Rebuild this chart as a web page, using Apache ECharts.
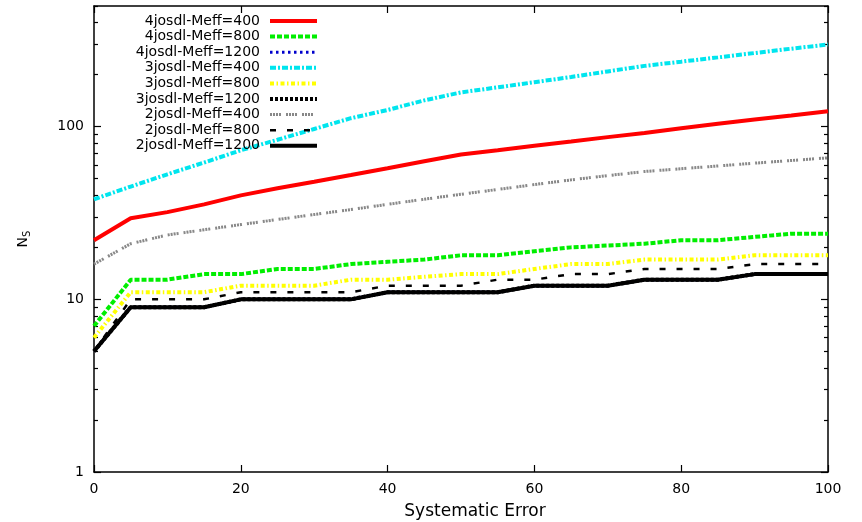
<!DOCTYPE html>
<html>
<head>
<meta charset="utf-8">
<script src="https://cdn.jsdelivr.net/npm/echarts@6/dist/echarts.min.js"></script>
<style>
html,body{margin:0;padding:0;background:#fff;}
#chart{width:862px;height:522px;}
</style>
</head>
<body>
<div id="chart"></div>
<script>
// ---- data ----
const xs = [0,5,10,15,20,25,30,35,40,45,50,55,60,65,70,75,80,85,90,95,100];
const seriesNames = ['4josdl-Meff=400','4josdl-Meff=800','4josdl-Meff=1200','3josdl-Meff=400','3josdl-Meff=800','3josdl-Meff=1200','2josdl-Meff=400','2josdl-Meff=800','2josdl-Meff=1200'];
const j4_400  = [22,29.5,32,35.5,40,44,48,52.5,57.5,63,69,73,77.5,82,87,92,98,104,110,116,123];
const j4_800  = [7,13,13,14,14,15,15,16,16.5,17,18,18,19,20,20.5,21,22,22,23,24,24];
const j4_1200 = [5,9,9,9,10,10,10,10,11,11,11,11,12,12,12,13,13,13,14,14,14];
const j3_400  = [38,45,53,62,73,84,97,112,125,142,158,169,181,194,209,225,238,252,267,283,299];
const j3_800  = [6,11,11,11,12,12,12,13,13,13.5,14,14,15,16,16,17,17,17,18,18,18];
const j3_1200 = [5,9,9,9,10,10,10,10,11,11,11,11,12,12,12,13,13,13,14,14,14];
const j2_400  = [16,21,23.6,25.3,27.1,29,31,33.1,35.5,38,40.6,43.3,46.2,49.2,52.1,55,57.1,59.2,61.5,63.7,66];
const j2_800  = [5,10,10,10,11,11,11,11,12,12,12,13,13,14,14,15,15,15,16,16,16];
const j2_1200 = [5,9,9,9,10,10,10,10,11,11,11,11,12,12,12,13,13,13,14,14,14];
const xTicks = [0,20,40,60,80,100];
const yMajorTicks = [1,10,100];
const yMinorTicks = [2,3,4,5,6,7,8,9,20,30,40,50,60,70,80,90,200,300,400,500];

// ---- styles ----
const FONT = 'DejaVu Sans';
const styles = [
  {color:'#ff0000', width:4, type:'solid'},
  {color:'#00ee00', width:4, type:[5,2]},
  {color:'#0000cc', width:3, type:[2.5,3.5]},
  {color:'#00e5ee', width:4, type:[6,2,2,2]},
  {color:'#ffff00', width:4, type:[4,2.5,1.5,2.5]},
  {color:'#000000', width:4, type:[3,2]},
  {color:'#888888', width:3, type:[2,1,2,1,2,1,2,5]},
  {color:'#000000', width:2.5, type:[6,11]},
  {color:'#000000', width:4, type:'solid'}
];
const values = [j4_400,j4_800,j4_1200,j3_400,j3_800,j3_1200,j2_400,j2_800,j2_1200];

const axisLineStyle = {color:'#000', width:1.5};
function yAxisDef(pos, major, showLabels) {
  const a = {
    type:'log', logBase:10, min:1, max:500, position:pos,
    axisLine:{show: major, lineStyle: axisLineStyle},
    axisTick:{show:true, inside:true, length: major ? 7 : 4,
              customValues: major ? yMajorTicks : yMinorTicks,
              lineStyle:{color:'#000', width:1.2}},
    axisLabel:{show: showLabels, customValues: yMajorTicks, color:'#000',
               fontFamily:FONT, fontSize:14, margin:10},
    splitLine:{show:false}, minorTick:{show:false}
  };
  if (showLabels) {
    a.name = '{n|N}{s|S}';
    a.nameLocation = 'middle';
    a.nameGap = 62;
    a.nameRotate = 90;
    a.nameTextStyle = {
      rich:{
        n:{fontFamily:FONT, fontSize:14, color:'#000', lineHeight:18},
        s:{fontFamily:FONT, fontSize:10, color:'#000', verticalAlign:'bottom'}
      }
    };
  }
  return a;
}

const option = {
  animation:false,
  backgroundColor:'#fff',
  grid:{left:94, right:34, top:6, bottom:50, containLabel:false, outerBoundsMode:'none'},
  legend:{
    orient:'vertical', align:'right', right:543, top:14, padding:0,
    itemWidth:47, itemHeight:14, itemGap:1.6, selectedMode:false,
    itemStyle:{opacity:0},
    lineStyle:{width:'inherit'},
    textStyle:{fontFamily:FONT, fontSize:14, color:'#000', padding:[0,5,0,0]},
    data: seriesNames
  },
  xAxis:[
    {type:'value', min:0, max:100, interval:20, position:'bottom',
     axisLine:{show:true, lineStyle:axisLineStyle},
     axisTick:{show:true, inside:true, length:7, lineStyle:{color:'#000', width:1.2}},
     axisLabel:{color:'#000', fontFamily:FONT, fontSize:14, margin:10,
                customValues: xTicks},
     splitLine:{show:false},
     name:'Systematic Error', nameLocation:'middle', nameGap:31,
     nameTextStyle:{fontFamily:FONT, fontSize:17, color:'#000', padding:[0,0,0,28]}},
    {type:'value', min:0, max:100, interval:20, position:'top',
     axisLine:{show:true, lineStyle:axisLineStyle},
     axisTick:{show:true, inside:true, length:7, lineStyle:{color:'#000', width:1.2}},
     axisLabel:{show:false}, splitLine:{show:false}}
  ],
  yAxis:[
    yAxisDef('left', true, true),
    yAxisDef('left', false, false),
    yAxisDef('right', true, false),
    yAxisDef('right', false, false)
  ],
  series: seriesNames.map((name, i) => ({
    name: name,
    type:'line',
    xAxisIndex:0, yAxisIndex:0,
    symbol:'none', showSymbol:false,
    lineStyle: styles[i],
    itemStyle:{color: styles[i].color},
    emphasis:{disabled:true},
    data: xs.map((x, k) => [x, values[i][k]])
  }))
};

const chart = echarts.init(document.getElementById('chart'), null, {renderer:'canvas'});
chart.setOption(option);
</script>
</body>
</html>
